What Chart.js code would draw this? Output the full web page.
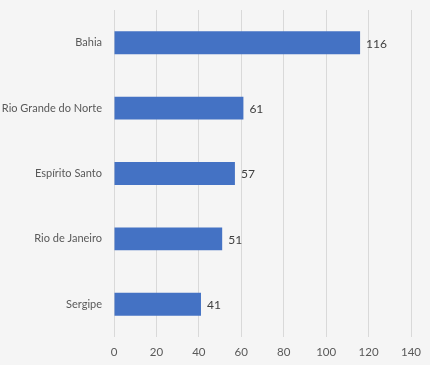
<!DOCTYPE html>
<html>
<head>
<meta charset="utf-8">
<script src="https://cdn.jsdelivr.net/npm/chart.js@4.4.1/dist/chart.umd.min.js"></script>
<style>
  html, body { margin: 0; padding: 0; background: #f5f5f5; }
  #wrap { width: 430px; height: 365px; }
</style>
</head>
<body>
<div id="wrap"><canvas id="estados" width="430" height="365"></canvas></div>
<script>
const estados = ["Bahia", "Rio Grande do Norte", "Espírito Santo", "Rio de Janeiro", "Sergipe"];
const valores = [116, 61, 57, 51, 41];
const xTicks = [0, 20, 40, 60, 80, 100, 120, 140];

const fonte = "Lato, 'Open Sans', sans-serif";

// draws the value at the end of each bar
const valueLabels = {
  id: "valueLabels",
  afterDatasetsDraw(chart) {
    const c = chart.ctx;
    const meta = chart.getDatasetMeta(0);
    c.save();
    c.font = "12px " + fonte;
    c.fillStyle = "#404040";
    c.textAlign = "left";
    c.textBaseline = "middle";
    meta.data.forEach((bar, i) => {
      c.fillText(valores[i], bar.x + 6, bar.y + 1);
    });
    c.restore();
  },
};

const bg = {
  id: "bg",
  beforeDraw(chart) {
    const c = chart.ctx;
    c.save();
    c.fillStyle = "#f5f5f5";
    c.fillRect(0, 0, chart.width, chart.height);
    c.restore();
  },
};

const ctx = document.getElementById("estados");
new Chart(ctx, {
  type: "bar",
  data: {
    labels: estados,
    datasets: [
      {
        data: valores,
        backgroundColor: "#4472C4",
        borderWidth: 0,
        barPercentage: 0.7,
        categoryPercentage: 0.5,
      },
    ],
  },
  options: {
    responsive: false,
    animation: false,
    indexAxis: "y",
    layout: {
      padding: { left: 0, right: 19, top: 10, bottom: 0 },
    },
    plugins: {
      legend: { display: false },
      tooltip: { enabled: false },
    },
    scales: {
      x: {
        min: 0,
        max: 140,
        afterBuildTicks(scale) {
          scale.ticks = xTicks.map((v) => ({ value: v }));
        },
        afterFit(scale) {
          scale.height = 28;
        },
        grid: {
          color: "#d9d9d9",
          drawTicks: false,
        },
        border: { display: false },
        ticks: {
          color: "#595959",
          padding: 8,
          font: { family: fonte, size: 11.5 },
        },
      },
      y: {
        afterFit(scale) {
          scale.width = 114;
          scale.paddingTop = 0;
          scale.paddingBottom = 0;
        },
        grid: { display: false, drawTicks: false },
        border: { display: false },
        ticks: {
          color: "#595959",
          padding: 12,
          font: { family: fonte, size: 11 },
        },
      },
    },
  },
  plugins: [bg, valueLabels],
});
</script>
</body>
</html>
